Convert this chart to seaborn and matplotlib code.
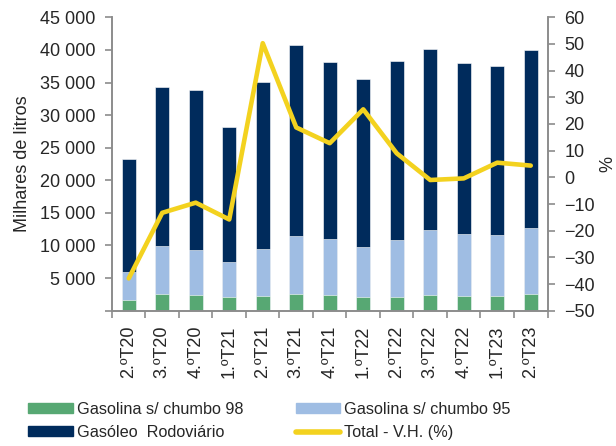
import numpy as np
import pandas as pd
import matplotlib.pyplot as plt
import seaborn as sns
from matplotlib.patches import Patch
from matplotlib.lines import Line2D
from matplotlib.ticker import FuncFormatter, MultipleLocator


# Data (milhares de litros / %).
trimestres = ["2.ºT20", "3.ºT20", "4.ºT20", "1.ºT21", "2.ºT21", "3.ºT21", "4.ºT21",
              "1.ºT22", "2.ºT22", "3.ºT22", "4.ºT22", "1.ºT23", "2.ºT23"]
gasolina_98 = [1690, 2610, 2450, 2050, 2300, 2610, 2410, 2100, 2050, 2360, 2300, 2300, 2500]
gasolina_95 = [4200, 7310, 6910, 5420, 7210, 8850, 8540, 7720, 8850, 10020, 9400, 9260, 10180]
gasoleo = [17380, 24380, 24440, 20730, 25590, 29240, 27150, 25680, 27400, 27820, 26300, 26040, 27320]
total_vh = [-37.9, -13.3, -9.5, -15.8, 50.3, 18.7, 12.8, 25.5, 9.0, -1.0, -0.4, 5.5, 4.4]

c_98 = "#57A873"
c_95 = "#9FBDE3"
c_gas = "#002B5C"
c_line = "#F3D21F"
c_axis = "#8C8C8C"

df = pd.DataFrame({"trimestre": trimestres, "g98": gasolina_98, "g95": gasolina_95,
                   "gasoleo": gasoleo, "vh": total_vh})
df["top95"] = df["g98"] + df["g95"]
df["total"] = df["top95"] + df["gasoleo"]
df["pos"] = np.arange(len(df))

sns.set_style("white")
plt.rcParams["font.family"] = ["Liberation Sans", "DejaVu Sans"]

fig = plt.figure(figsize=(6.16, 4.46), dpi=100)
ax = fig.add_axes([0.1818, 0.3034, 0.7070, 0.6578])

# Stacked bars drawn as layered cumulative totals.
sns.barplot(data=df, x="trimestre", y="total", color=c_gas, width=0.42, saturation=1,
            edgecolor="white", linewidth=0.4, ax=ax)
sns.barplot(data=df, x="trimestre", y="top95", color=c_95, width=0.42, saturation=1,
            edgecolor="white", linewidth=0.4, ax=ax)
sns.barplot(data=df, x="trimestre", y="g98", color=c_98, width=0.42, saturation=1,
            edgecolor="white", linewidth=0.4, ax=ax)

ax.set_xlim(-0.5, len(df) - 0.5)
ax.set_ylim(0, 45000)
ax.yaxis.set_major_locator(MultipleLocator(5000))
ax.yaxis.set_major_formatter(FuncFormatter(lambda v, p: "" if v == 0 else f"{int(v):,}".replace(",", " ")))
ax.set_xlabel("")
ax.set_ylabel("Milhares de litros", fontsize=13, labelpad=6)
ax.tick_params(axis="y", labelsize=13, length=5, color=c_axis, width=1.2, left=True, pad=7)
ax.tick_params(axis="x", which="major", labelsize=13, length=0, rotation=90, pad=11)
ax.set_xticks(np.arange(len(df) + 1) - 0.5, minor=True)
ax.tick_params(axis="x", which="minor", length=5, color=c_axis, width=1.2, bottom=True)

# Line on the secondary axis.
ax2 = ax.twinx()
sns.lineplot(data=df, x="pos", y="vh", color=c_line, linewidth=3.3, ax=ax2)
ax2.set_ylim(-50, 60)
ax2.yaxis.set_major_locator(MultipleLocator(10))
ax2.set_ylabel("%", fontsize=13, labelpad=3)
ax2.tick_params(axis="y", labelsize=13, length=5, color=c_axis, width=1.2, right=True, pad=7)
ax2.set_xlim(-0.5, len(df) - 0.5)

for a in (ax, ax2):
    a.spines["top"].set_visible(False)
    for s in ("left", "right", "bottom"):
        a.spines[s].set_color(c_axis)
        a.spines[s].set_linewidth(1.2)

handles = [Patch(color=c_98), Patch(color=c_gas), Patch(color=c_95),
           Line2D([0], [0], color=c_line, linewidth=4, solid_capstyle="round")]
labels = ["Gasolina s/ chumbo 98", "Gasóleo  Rodoviário", "Gasolina s/ chumbo 95", "Total - V.H. (%)"]
fig.legend(handles, labels, ncol=2, loc="upper left", bbox_to_anchor=(0.033, 0.117),
           frameon=False, fontsize=11.7, handlelength=2.75, handleheight=0.6,
           handletextpad=0.25, columnspacing=3.2, labelspacing=0.5, borderpad=0)

plt.savefig("out.png", dpi=100)
